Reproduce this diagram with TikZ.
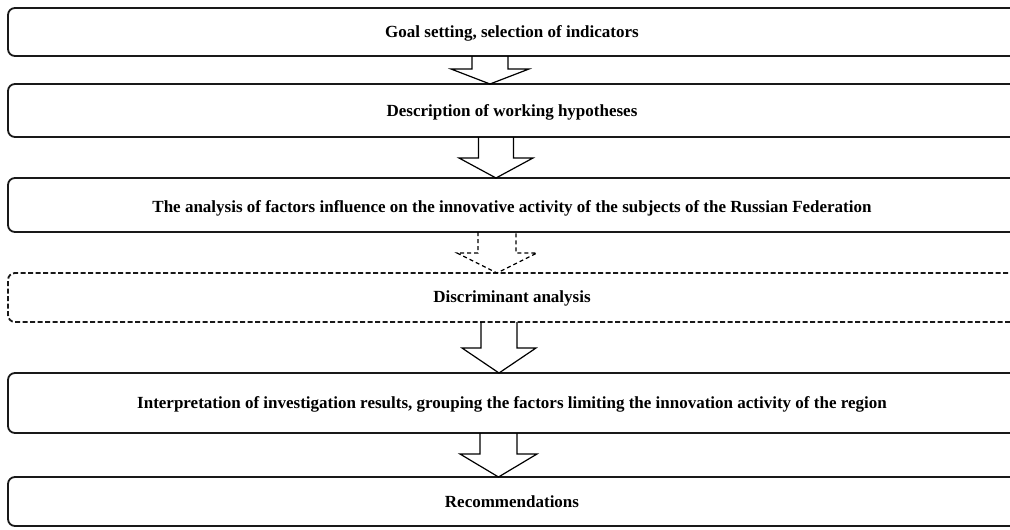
\documentclass[tikz,border=0pt]{standalone}
\usepackage{fontspec}
\setmainfont{Liberation Serif}
\usetikzlibrary{calc}
\tikzset{
  box/.style={draw=black!90, line width=1.8pt, rounded corners=7pt, rectangle,
    minimum width=1022pt, outer sep=0pt, inner sep=0pt, fill=white},
  dashbox/.style={box, dash pattern=on 5pt off 2.5pt},
  txt/.style={font=\fontsize{17}{20}\selectfont\bfseries, inner sep=0pt, text=black},
  arrowline/.style={draw=black, line width=1.2pt, line join=miter}
}
\newcommand{\blockarr}[7][]{%
  \coordinate (ax) at (#4,#5);
  \draw[arrowline,#1] ($(#2.south -| ax)+(-#6,0)$) -- ($(ax)+(-#6,0)$) -- ($(ax)+(-#7,0)$)
    -- (#3.north -| ax) -- ($(ax)+(#7,0)$) -- ($(ax)+(#6,0)$) -- ($(#2.south -| ax)+(#6,0)$);
}
\begin{document}
\begin{tikzpicture}[x=1pt,y=-1pt]
\useasboundingbox (0,0) rectangle (1010,530);
\clip (0,0) rectangle (1010,530);
\fill[white] (0,0) rectangle (1010,530);

\node[box, minimum height=48pt] (b1) at (519,32) {};
\node[box, minimum height=53pt] (b2) at (519,110.5) {};
\node[box, minimum height=54pt] (b3) at (519,205) {};
\node[dashbox, minimum height=49pt] (b4) at (519,297.5) {};
\node[box, minimum height=60pt] (b5) at (519,403) {};
\node[box, minimum height=49pt] (b6) at (519,501.5) {};

\node[txt] (t1) at (512,33) {Goal setting, selection of indicators};
\node[txt] (t2) at (512,112) {Description of working hypotheses};
\node[txt] (t3) at (512,208) {The analysis of factors influence on the innovative activity of the subjects of the Russian Federation};
\node[txt] (t4) at (512,298) {Discriminant analysis};
\node[txt] (t5) at (512,404) {Interpretation of investigation results, grouping the factors limiting the innovation activity of the region};
\node[txt] (t6) at (512,502) {Recommendations};

\blockarr{b1}{b2}{490}{69}{18}{39}
\blockarr{b2}{b3}{496}{158}{17.5}{37}
\blockarr[dash pattern=on 4pt off 3pt]{b3}{b4}{497}{253}{19}{40}
\blockarr{b4}{b5}{499}{348}{18}{37}
\blockarr{b5}{b6}{498.5}{454}{18.5}{38.5}
\end{tikzpicture}
\end{document}
